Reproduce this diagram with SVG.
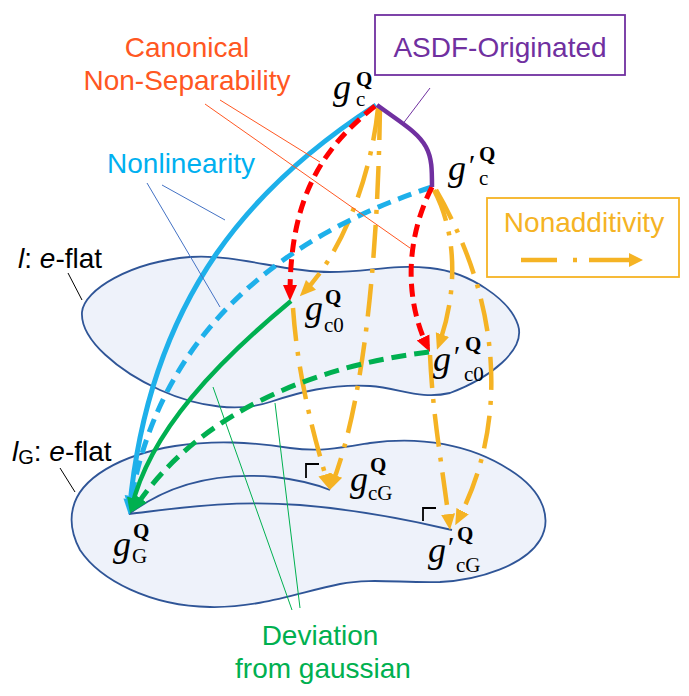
<svg xmlns="http://www.w3.org/2000/svg" width="689" height="696" viewBox="0 0 689 696">
<defs>
<style>
.surf{fill:#EEF2FA;stroke:#2F5597;stroke-width:1.8}
.geo{fill:none;stroke:#2F5597;stroke-width:1.8}
.ra{fill:none;stroke:#000;stroke-width:1.8}
.lbl{font-family:"Liberation Sans",Arial,sans-serif;font-size:28px}
.m{font-family:"Liberation Serif","Times New Roman",serif;fill:#000}
.g{font-style:italic;font-size:36px}
.sup{font-weight:bold;font-size:21px}
.sub{font-size:21px}
.pr{font-style:italic;font-size:30px}
.lead{fill:none;stroke-width:1}
.or{fill:none;stroke:#F5B324;stroke-width:4.5;stroke-dasharray:33 11 4 11;marker-end:url(#ah-o)}
.rd{fill:none;stroke:#FF0000;stroke-width:5;stroke-dasharray:13 7;marker-end:url(#ah-r)}
.bs{fill:none;stroke:#1EB0EA;stroke-width:5;marker-end:url(#ah-b)}
.bd{fill:none;stroke:#1EB0EA;stroke-width:5;stroke-dasharray:14 8;marker-end:url(#ah-b)}
.gs{fill:none;stroke:#00B050;stroke-width:4.5;marker-end:url(#ah-g)}
.gd{fill:none;stroke:#00B050;stroke-width:5;stroke-dasharray:15 8;marker-end:url(#ah-g)}
</style>
<marker id="ah-o" markerUnits="userSpaceOnUse" markerWidth="16" markerHeight="16" viewBox="0 0 16 16" refX="10" refY="8" orient="auto"><path d="M0,1 L16,8 L0,15 z" fill="#F5B324"/></marker>
<marker id="ah-r" markerUnits="userSpaceOnUse" markerWidth="16" markerHeight="16" viewBox="0 0 16 16" refX="10" refY="8" orient="auto"><path d="M0,1 L16,8 L0,15 z" fill="#FF0000"/></marker>
<marker id="ah-b" markerUnits="userSpaceOnUse" markerWidth="16" markerHeight="16" viewBox="0 0 16 16" refX="10" refY="8" orient="auto"><path d="M0,1 L16,8 L0,15 z" fill="#1EB0EA"/></marker>
<marker id="ah-g" markerUnits="userSpaceOnUse" markerWidth="16" markerHeight="16" viewBox="0 0 16 16" refX="10" refY="8" orient="auto"><path d="M0,1 L16,8 L0,15 z" fill="#00B050"/></marker>
</defs>
<rect width="689" height="696" fill="#FFFFFF"/>

<g id="surface-lG">
<path class="surf" d="M73,508 C80,478 120,455 175,446 C215,440 250,442 290,448 C320,452 340,448 370,443 C420,436 470,444 510,470 C545,492 552,520 540,540 C525,565 480,580 440,582 C400,583 370,578 340,584 C300,592 260,608 210,607 C150,606 100,580 80,550 C72,535 70,520 73,508 Z"/>
<line x1="60" y1="468" x2="75" y2="492" stroke="#000" stroke-width="1"/>
<text class="lbl" x="12" y="461"><tspan font-style="italic">l</tspan><tspan font-size="20" dy="3">G</tspan><tspan dy="-3">: </tspan><tspan font-style="italic">e</tspan>-flat</text>
</g>

<g id="surface-l">
<path class="surf" d="M82,312 C84,290 130,262 190,257 C240,254 280,272 330,272 C370,272 390,264 430,268 C470,272 510,300 518,325 C526,350 490,378 450,393 C420,400 400,388 370,386 C330,384 300,392 270,402 C240,412 200,408 160,390 C120,372 80,340 82,312 Z"/>
<line x1="68" y1="273" x2="82" y2="300" stroke="#000" stroke-width="1"/>
<text class="lbl" x="18" y="268"><tspan font-style="italic">l</tspan>: <tspan font-style="italic">e</tspan>-flat</text>
</g>

<g id="geodesics">
<path class="geo" d="M129,514 C170,483 220,472 275,477 C300,480 318,485 330,490"/>
<path class="geo" d="M129,514 C180,508 230,500 300,505 C360,510 410,520 452,530"/>
<polyline class="ra" points="319,464 306,464 306,478"/>
<polyline class="ra" points="436,508 423,508 423,521"/>
</g>

<g id="connectors">
<path class="or" d="M378,108 C372,170 345,250 304,292"/>
<path class="or" d="M380,107 C378,250 365,400 332,484.5"/>
<path class="or" d="M293,308 C298,380 315,440 328,484"/>
<path class="or" d="M434,190 C460,240 455,300 439,344"/>
<path class="or" d="M436,190 C500,300 510,420 458,520"/>
<path class="or" d="M430,355 C433,420 443,470 449.3,524"/>
<path class="bs" d="M376,105 C260,180 150,290 129.5,509"/>
<path class="bd" d="M432,187 C300,230 160,320 130,506"/>
<path class="rd" d="M375,106 C320,150 290,200 290,295"/>
<path class="rd" d="M432,187 C405,240 405,300 427.4,346.6"/>
<path class="gs" d="M291,301 C220,360 150,430 131.5,508"/>
<path class="gd" d="M429,352 C320,365 200,410 135.5,507"/>
<path d="M377,105 C400,122 418,132 426,147 C432,158 432,170 432,187" fill="none" stroke="#7030A0" stroke-width="4.5"/>
</g>

<g id="leaders">
<line class="lead" x1="220" y1="100" x2="320" y2="162" stroke="#FF5722"/>
<line class="lead" x1="205" y1="104" x2="410" y2="248" stroke="#FF5722"/>
<line class="lead" x1="147" y1="183" x2="220" y2="307" stroke="#4472C4"/>
<line class="lead" x1="162" y1="185" x2="225" y2="220" stroke="#4472C4"/>
<line class="lead" x1="213" y1="387" x2="292" y2="610" stroke="#00B050"/>
<line class="lead" x1="275" y1="403" x2="300" y2="608" stroke="#00B050"/>
<line class="lead" x1="430" y1="88" x2="402" y2="125" stroke="#7030A0"/>
</g>

<g id="label-canonical">
<text class="lbl" fill="#FF5722" text-anchor="middle" x="187" y="57">Canonical</text>
<text class="lbl" fill="#FF5722" text-anchor="middle" x="187" y="90">Non-Separability</text>
</g>
<g id="label-asdf">
<rect x="375" y="15" width="250" height="60" fill="#FFFFFF" stroke="#7030A0" stroke-width="1.8"/>
<text class="lbl" fill="#7030A0" text-anchor="middle" x="500" y="57">ASDF-Originated</text>
</g>
<g id="label-nonlinearity">
<text class="lbl" fill="#00B0F0" text-anchor="middle" x="181" y="173">Nonlinearity</text>
</g>
<g id="label-nonadditivity">
<rect x="487" y="198" width="192" height="79" fill="#FFFFFF" stroke="#F5B324" stroke-width="1.8"/>
<text class="lbl" fill="#F5B324" text-anchor="middle" x="584" y="232">Nonadditivity</text>
<line x1="521" y1="260" x2="557" y2="260" stroke="#F5B324" stroke-width="4.5"/>
<line x1="573" y1="260" x2="577" y2="260" stroke="#F5B324" stroke-width="4.5"/>
<line x1="589" y1="260" x2="631" y2="260" stroke="#F5B324" stroke-width="4.5"/>
<path d="M629,253 L643,260 L629,267 Z" fill="#F5B324"/>
</g>
<g id="label-deviation">
<text class="lbl" fill="#00B050" text-anchor="middle" x="320" y="645">Deviation</text>
<text class="lbl" fill="#00B050" text-anchor="middle" x="323" y="678">from gaussian</text>
</g>

<g id="node-gc">
<text class="m g" x="333" y="99">g</text>
<text class="m sup" x="356" y="86">Q</text>
<text class="m sub" x="356" y="106">c</text>
</g>
<g id="node-gc-prime">
<text class="m g" x="448" y="180">g</text>
<text class="m pr" x="467" y="175">′</text>
<text class="m sup" x="479" y="161">Q</text>
<text class="m sub" x="479" y="185">c</text>
</g>
<g id="node-gc0">
<text class="m g" x="305" y="320">g</text>
<text class="m sup" x="325" y="304">Q</text>
<text class="m sub" x="324" y="332">c0</text>
</g>
<g id="node-gc0-prime">
<text class="m g" x="433" y="371">g</text>
<text class="m pr" x="452" y="366">′</text>
<text class="m sup" x="465" y="351">Q</text>
<text class="m sub" x="464" y="381">c0</text>
</g>
<g id="node-gcG">
<text class="m g" x="350" y="491">g</text>
<text class="m sup" x="370" y="472">Q</text>
<text class="m sub" x="368" y="500">cG</text>
</g>
<g id="node-gcG-prime">
<text class="m g" x="428" y="562">g</text>
<text class="m pr" x="446" y="557">′</text>
<text class="m sup" x="457" y="541">Q</text>
<text class="m sub" x="456" y="572">cG</text>
</g>
<g id="node-gG">
<text class="m g" x="113" y="556">g</text>
<text class="m sup" x="133" y="538">Q</text>
<text class="m sub" x="132" y="563">G</text>
</g>
</svg>
